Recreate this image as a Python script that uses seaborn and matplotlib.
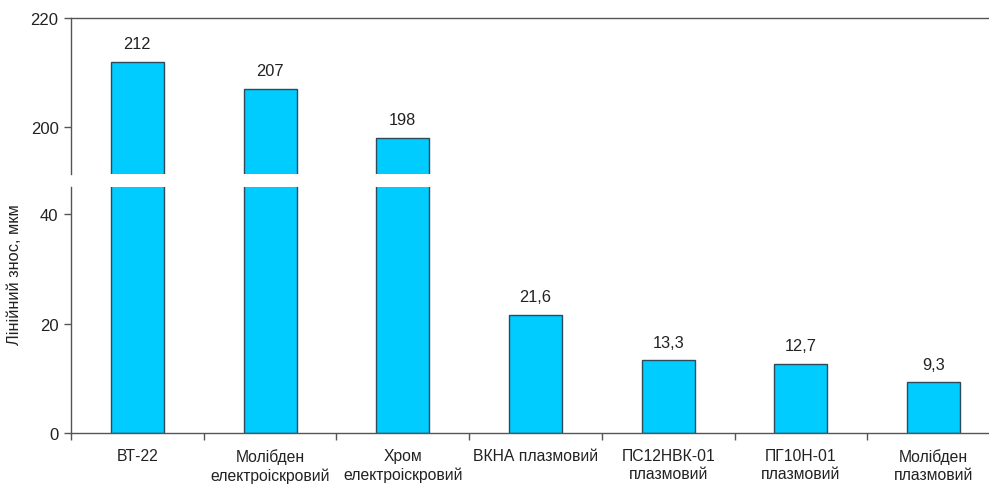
import matplotlib
matplotlib.use("Agg")
import matplotlib.pyplot as plt
import seaborn as sns
import pandas as pd
import numpy as np

categories = ["ВТ-22", "Молібден\nелектроіскровий", "Хром\nелектроіскровий",
              "ВКНА плазмовий", "ПС12НВК-01\nплазмовий", "ПГ10Н-01\nплазмовий",
              "Молібден\nплазмовий"]
values = [212, 207, 198, 21.6, 13.3, 12.7, 9.3]
value_labels = ["212", "207", "198", "21,6", "13,3", "12,7", "9,3"]
top_ticks = [200, 220]
bottom_ticks = [0, 20, 40]
ylabel = "Лінійний знос, мкм"

sns.set_theme(style="white")
plt.rcParams['font.family'] = ['Liberation Sans', 'DejaVu Sans']

df = pd.DataFrame({"cat": categories, "val": values})

W, H = 989, 485
fig = plt.figure(figsize=(W / 100, H / 100), dpi=100)
left = 71 / W
width = 929 / W
ax_top = fig.add_axes([left, 1 - 175 / H, width, (175 - 19) / H])
ax_bot = fig.add_axes([left, 1 - 434 / H, width, (434 - 188) / H])

bar_color = "#00CCFF"
edge = "#2E4A5A"
txt = "#222222"
line_c = "#555555"

for ax in (ax_top, ax_bot):
    sns.barplot(data=df, x="cat", y="val", ax=ax, color=bar_color, width=0.4,
                edgecolor=edge, linewidth=1.0, saturation=1)
    ax.set_xlim(-0.5, len(categories) - 0.5)
    ax.set_xlabel("")
    ax.set_ylabel("")
    for s in ax.spines.values():
        s.set_color(line_c)
        s.set_linewidth(1.0)
    ax.spines['right'].set_visible(False)
    ax.tick_params(axis='y', direction='out', length=5, width=1, color=line_c,
                   labelsize=12, labelcolor=txt, pad=4, left=True)

ax_top.set_ylim(191.4, 220)
ax_top.set_yticks(top_ticks)
ax_top.spines['bottom'].set_visible(False)
ax_top.set_xticks([])

ax_bot.set_ylim(0, 45.0)
ax_bot.set_yticks(bottom_ticks)
ax_bot.spines['top'].set_visible(False)
ax_bot.set_xticks(range(len(categories)))
ax_bot.set_xticklabels(categories, fontsize=11.3, color=txt, linespacing=1.25)
ax_bot.tick_params(axis='x', which='major', length=0, pad=11)
ax_bot.set_xticks(np.arange(-0.5, len(categories), 1.0), minor=True)
ax_bot.tick_params(axis='x', which='minor', direction='out', length=5, width=1,
                   color=line_c, bottom=True)

for i, (v, lab) in enumerate(zip(values, value_labels)):
    ax = ax_top if v > 191.4 else ax_bot
    ax.annotate(lab, (i, v), xytext=(0, 13), textcoords='offset points',
                ha='center', va='center', fontsize=11.8, color=txt)

fig.text(15 / W, 1 - 275 / H, ylabel, rotation=90, ha='center', va='center',
         fontsize=11.8, color=txt)

fig.savefig("out.png", dpi=100)
